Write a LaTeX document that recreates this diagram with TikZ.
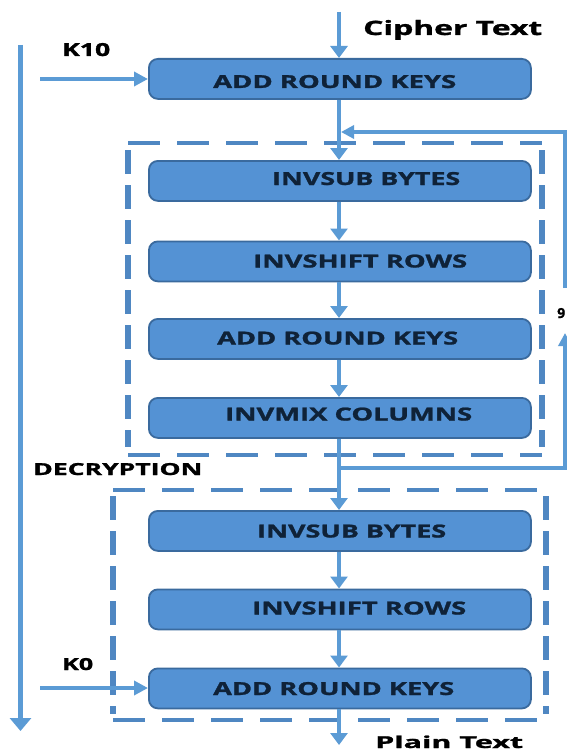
\documentclass[tikz,border=0pt]{standalone}
\usepackage{fontspec}
\setmainfont{Open Sans}[BoldFeatures={FakeBold=1.2}]
\usepackage{graphicx}
\usetikzlibrary{arrows.meta}
\definecolor{boxfill}{HTML}{5492D4}
\definecolor{boxline}{HTML}{3A6A9E}
\definecolor{arr}{HTML}{5B9BD5}
\definecolor{dash}{HTML}{4F87C2}
\definecolor{navy}{HTML}{0F2238}
\newcommand\fitbox[3]{\resizebox{#1pt}{#2pt}{\bfseries #3}}
\tikzset{
  blk/.style={draw=boxline, line width=1.8pt, fill=boxfill, rounded corners=9pt,
    minimum width=382pt, minimum height=40pt, inner sep=0pt, anchor=north west},
  btxt/.style={inner sep=0pt, anchor=base west, text=navy},
  lbl/.style={inner sep=0pt, anchor=base west, text=black},
  flow/.style={draw=arr, line width=4.5pt, -{Triangle[width=17pt,length=12pt]}},
  key/.style={draw=arr, line width=3.5pt, -{Triangle[width=14pt,length=14pt]}},
  fbarrow/.style={draw=arr, line width=3.5pt, -{Triangle[width=13pt,length=13pt]}},
  hdash/.style={draw=dash, line width=4pt, dash pattern=on 32pt off 17pt},
  vdash/.style={draw=dash, line width=6pt, dash pattern=on 24pt off 11pt},
}
\begin{document}
\begin{tikzpicture}[x=1pt,y=-1pt]
\useasboundingbox[fill=white] (0,0) rectangle (567,752);
% dashed loops
\draw[hdash] (128,143) -- (542,143);
\draw[hdash] (128,455) -- (542,455);
\draw[vdash] (128,150) -- (128,447);
\draw[vdash] (542,150) -- (542,447);
\draw[hdash] (113,490) -- (546,490);
\draw[hdash] (113,720) -- (546,720);
\draw[vdash] (113,496) -- (113,714);
\draw[vdash] (546,496) -- (546,714);
% boxes
\node[blk] (b1) at (148,58) {};
\node[blk] (b2) at (148,160) {};
\node[blk] (b3) at (148,240.5) {};
\node[blk] (b4) at (148,318) {};
\node[blk] (b5) at (148,397) {};
\node[blk] (b6) at (148,510) {};
\node[blk] (b7) at (148,588.5) {};
\node[blk] (b8) at (148,667.5) {};
% box texts
\node[btxt] (t1) at (213,88) {\fitbox{243}{13}{ADD ROUND KEYS}};
\node[btxt] (t2) at (272,185) {\fitbox{188}{13}{INVSUB BYTES}};
\node[btxt] (t3) at (253,267.5) {\fitbox{214}{13}{INVSHIFT ROWS}};
\node[btxt] (t4) at (217,344.5) {\fitbox{241}{13}{ADD ROUND KEYS}};
\node[btxt] (t5) at (225,420.5) {\fitbox{247}{13}{INVMIX COLUMNS}};
\node[btxt] (t6) at (257,537.5) {\fitbox{189}{13}{INVSUB BYTES}};
\node[btxt] (t7) at (252,614.5) {\fitbox{214}{13}{INVSHIFT ROWS}};
\node[btxt] (t8) at (213,695) {\fitbox{241}{13}{ADD ROUND KEYS}};
% labels
\node[lbl] (ct) at (363,35) {\fitbox{179}{15}{Cipher Text}};
\node[lbl] (pt) at (375,748) {\fitbox{148}{12.5}{Plain Text}};
\node[lbl] (k10) at (62,56) {\fitbox{48}{13}{K10}};
\node[lbl] (k0) at (62,670) {\fitbox{31}{12}{K0}};
\node[lbl] (dec) at (33,475) {\fitbox{169}{12}{DECRYPTION}};
\node[lbl] (nine) at (557,318) {\fitbox{8}{10}{9}};
% coordinates
\coordinate (cin) at (339,12);
\coordinate (cout) at (339,745);
\coordinate (ltop) at (20.5,45);
\coordinate (lbot) at (20.5,731);
\coordinate (k10s) at (40,79);
\coordinate (k0s) at (40,688);
\coordinate (f1) at (339,468);
\coordinate (f2) at (565,468);
\coordinate (f3) at (565,333);
\coordinate (f4) at (565,288);
\coordinate (f5) at (565,132);
\coordinate (f6) at (341,132);
% main flow
\draw[flow] (cin) -- (b1.north -| cin);
\draw[flow] (b1.south -| cin) -- (b2.north -| cin);
\draw[flow] (b2.south -| cin) -- (b3.north -| cin);
\draw[flow] (b3.south -| cin) -- (b4.north -| cin);
\draw[flow] (b4.south -| cin) -- (b5.north -| cin);
\draw[flow] (b5.south -| cin) -- (b6.north -| cin);
\draw[flow] (b6.south -| cin) -- (b7.north -| cin);
\draw[flow] (b7.south -| cin) -- (b8.north -| cin);
\draw[flow] (b8.south -| cin) -- (cout);
% keys
\draw[key] (k10s) -- (b1.west |- k10s);
\draw[key] (k0s) -- (b8.west |- k0s);
% left arrow
\draw[draw=arr, line width=5pt, -{Triangle[width=21pt,length=13pt]}] (ltop) -- (lbot);
% feedback loop
\draw[fbarrow] (f1) -- (f2) -- (f3);
\draw[fbarrow] (f4) -- (f5) -- (f6);
\end{tikzpicture}
\end{document}
